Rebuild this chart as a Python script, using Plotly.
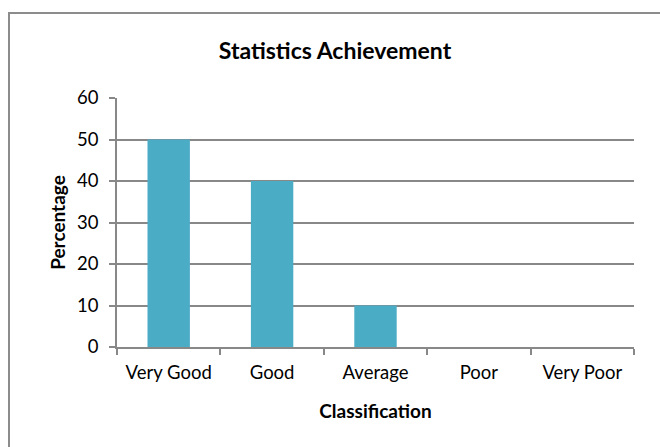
import plotly.graph_objects as go

categories = ["Very Good", "Good", "Average", "Poor", "Very Poor"]
percentages = [50, 40, 10, 0, 0]
y_ticks = [0, 10, 20, 30, 40, 50, 60]

W, H = 660, 447
L, R, T, B = 117, 26, 98, 100
pw, ph = W - L - R, H - T - B

fig = go.Figure(go.Bar(x=categories, y=percentages, marker=dict(color="#4BACC6", line=dict(width=0))))

font = "Lato, 'Open Sans', sans-serif"
grid = "#888888"

def px_to_paper_x(px):
    return (px - L) / pw

def px_to_paper_y(py):
    return (H - B - py) / ph

fig.update_layout(
    width=W, height=H,
    margin=dict(l=L, r=R, t=T, b=B),
    paper_bgcolor="white", plot_bgcolor="white",
    bargap=0.59,
    showlegend=False,
    title=dict(text="<b>Statistics Achievement</b>", x=335 / W, xref="container", xanchor="center",
               y=1 - 51 / H, yanchor="middle", font=dict(family=font, size=23, color="black")),
    font=dict(family=font, color="black"),
    xaxis=dict(
        type="category", showline=True, linecolor=grid, linewidth=1.5,
        ticks="outside", tickson="boundaries", ticklen=6, tickcolor=grid, tickwidth=1.5,
        ticklabelstandoff=8,
        tickfont=dict(size=18.5, color="black"), showgrid=False,
        title=dict(text="<b>Classification</b>", font=dict(size=19, color="black"), standoff=23),
    ),
    yaxis=dict(
        range=[0, 60], tickvals=y_ticks, showline=True, linecolor=grid, linewidth=1.5,
        ticks="outside", ticklen=6, tickcolor=grid, tickwidth=1.5, showgrid=True, gridcolor=grid, gridwidth=1.5,
        ticklabelstandoff=7,
        zeroline=False, tickfont=dict(size=18.5, color="black"),
        title=dict(text="<b>Percentage</b>", font=dict(size=19, color="black"), standoff=6),
    ),
    shapes=[dict(type="rect", xref="paper", yref="paper",
                 x0=px_to_paper_x(9), x1=px_to_paper_x(670),
                 y0=px_to_paper_y(460), y1=px_to_paper_y(13),
                 line=dict(color="#8c8c8c", width=2), layer="below")],
)

fig.write_html("out.html", config={"displayModeBar": False},
               post_script="document.body.style.margin='0';document.body.style.overflow='hidden';")
